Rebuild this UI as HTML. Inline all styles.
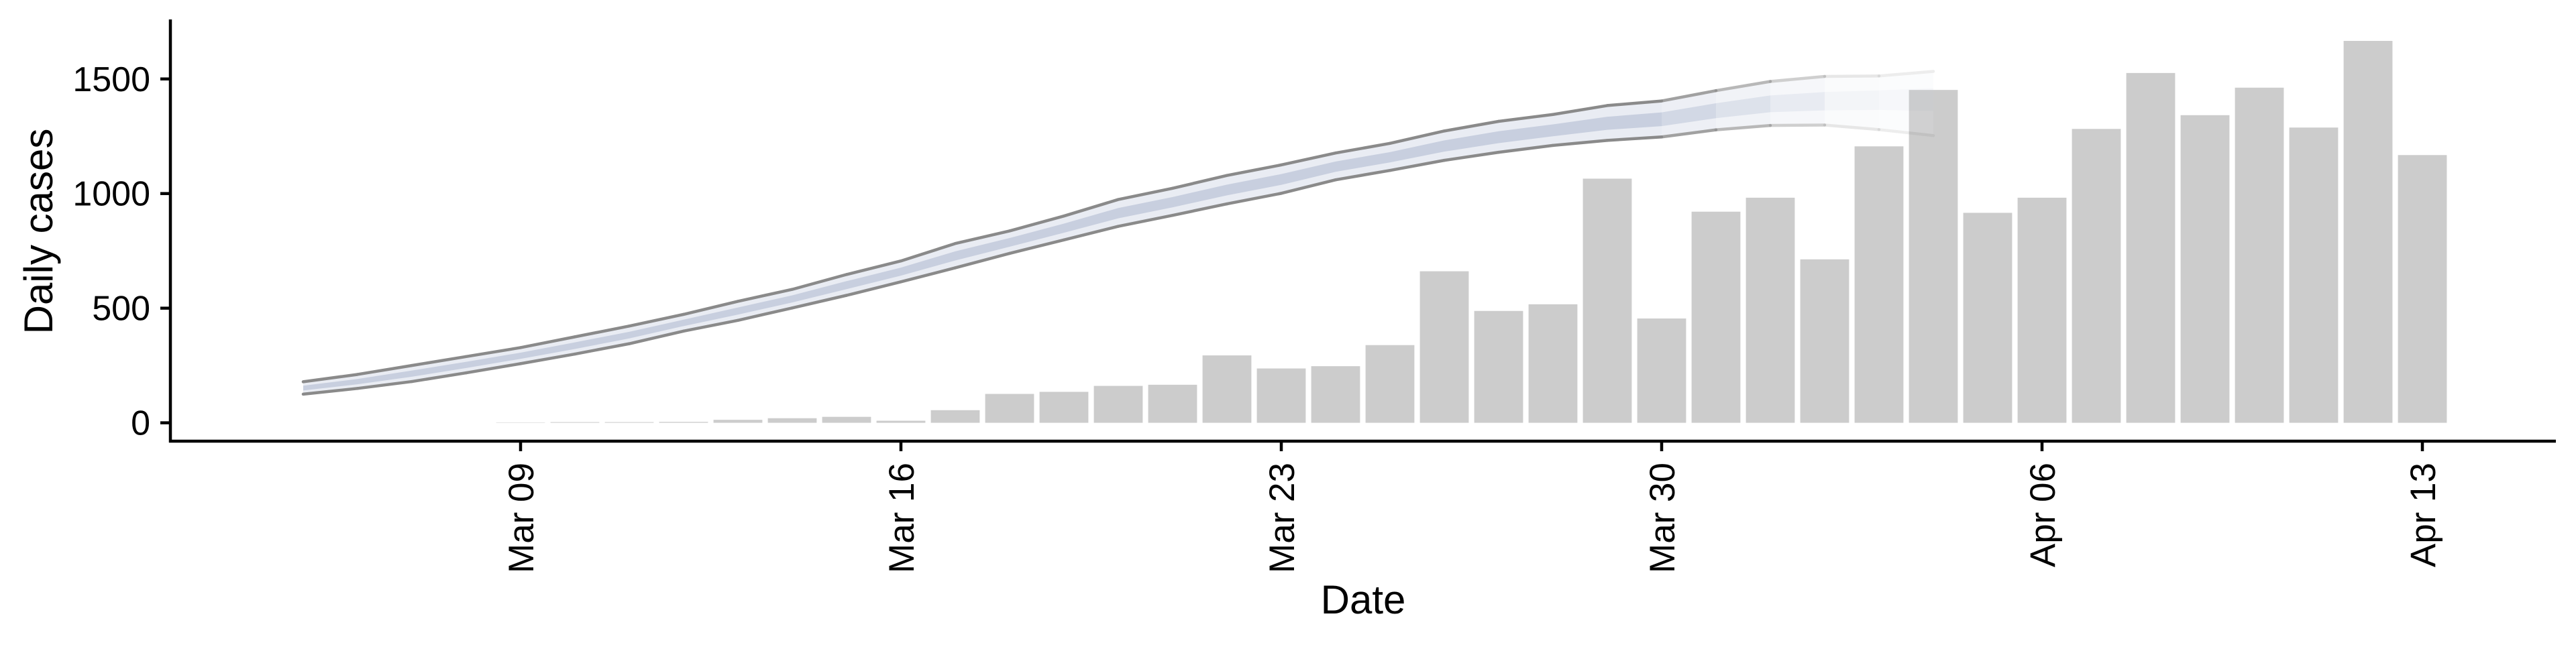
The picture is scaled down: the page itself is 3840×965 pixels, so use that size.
<!DOCTYPE html>
<html><head><meta charset="utf-8"><style>
html,body{margin:0;padding:0;background:#fff;}
svg text{font-family:"Liberation Sans",Arial,sans-serif;fill:#000;}
</style></head><body>
<svg id="chart" width="3840" height="960" viewBox="0 0 3840 960" xmlns="http://www.w3.org/2000/svg">
<g id="bars"></g>
<g id="band"></g>
<g id="axes"></g>
</svg>
<script>
// ---- data ----
const barDays = [0,1,2,3,4,5,6,7,8,9,10,11,12,13,14,15,16,17,18,19,20,21,22,23,24,25,26,27,28,29,30,31,32,33,34,35];
const barValues = [1,3,3,4,13,20,26,9,55,126,135,161,166,294,237,247,339,661,488,517,1065,455,921,982,713,1206,1452,916,982,1282,1526,1342,1462,1288,1666,1168];
const curveDays = [-4,-3,-2,-1,0,1,2,3,4,5,6,7,8,9,10,11,12,13,14,15,16,17,18,19,20,21,22,23,24,25,26];
const upperValues = [179,211,250,289,328,375,422,473,530,582,647,706,782,837,902,974,1023,1079,1125,1177,1219,1273,1315,1345,1384,1404,1449,1489,1511,1513,1533];
const lowerValues = [125,150,180,218,258,300,345,400,447,501,556,615,676,739,798,857,905,955,1001,1060,1101,1145,1180,1210,1232,1247,1278,1297,1299,1279,1253];
const innerHiValues = [162,191,228,266,306,351,397,450,503,556,618,677,748,806,869,937,985,1039,1085,1140,1181,1232,1272,1302,1335,1354,1394,1428,1443,1450,1460];
const innerLoValues = [141,168,201,239,279,322,368,422,472,525,583,642,708,768,829,892,940,992,1038,1095,1136,1183,1220,1250,1278,1294,1329,1355,1363,1365,1360];
const yTicks = [0,500,1000,1500];
const xTickDays = [0,7,14,21,28,35];
const xTickLabels = ["Mar 09","Mar 16","Mar 23","Mar 30","Apr 06","Apr 13"];

// ---- scales ----
const X0 = 776, DAY = 81;
const Y0 = 630.6, YK = 0.3419;
function xs(d){return X0 + d*DAY;}
function ys(v){return Y0 - v*YK;}
const NS = "http://www.w3.org/2000/svg";
function mk(tag, attrs, parent){const e=document.createElementNS(NS,tag);for(const k in attrs)e.setAttribute(k,attrs[k]);parent.appendChild(e);return e;}

// bars
const gb = document.getElementById('bars');
barDays.forEach((d,i)=>{
  const v = barValues[i];
  const r = mk('rect',{x:xs(d)-36.4,y:ys(v),width:72.8,height:Math.max(0.5,v*YK),fill:'#cccccc'},gb);
  
  
});

// band (per-day segments, fading toward the end)
const gband = document.getElementById('band');
const n = curveDays.length;
function alphaFor(i){ if(i<21+4) return 1; return Math.max(0.15, 1-(i-24)*0.2); }
for(let i=0;i<n-1;i++){
  const a = alphaFor(i);
  const xa = xs(curveDays[i]), xb = xs(curveDays[i+1]);
  const seg = mk('g',{opacity:a},gband);
  
  
  const p1 = mk('polygon',{points:`${xa},${ys(upperValues[i])} ${xb},${ys(upperValues[i+1])} ${xb},${ys(lowerValues[i+1])} ${xa},${ys(lowerValues[i])}`,fill:'#e9ecf3'},seg);
  
  
  const p2 = mk('polygon',{points:`${xa},${ys(innerHiValues[i])} ${xb},${ys(innerHiValues[i+1])} ${xb},${ys(innerLoValues[i+1])} ${xa},${ys(innerLoValues[i])}`,fill:'#c8cfdf'},seg);
  
  
  const l1 = mk('line',{x1:xa,y1:ys(upperValues[i]),x2:xb,y2:ys(upperValues[i+1]),stroke:'#8a8a8a','stroke-width':4.5,'stroke-linecap':'round'},seg);
  
  
  const l2 = mk('line',{x1:xa,y1:ys(lowerValues[i]),x2:xb,y2:ys(lowerValues[i+1]),stroke:'#8a8a8a','stroke-width':4.5,'stroke-linecap':'round'},seg);
  
  
}

// axes
const ga = document.getElementById('axes');
const ya = mk('line',{x1:254,y1:29,x2:254,y2:660,stroke:'#000','stroke-width':4.5},ga);


const xa = mk('line',{x1:252,y1:658,x2:3810,y2:658,stroke:'#000','stroke-width':4.5},ga);


yTicks.forEach(v=>{
  const t = mk('line',{x1:239,y1:ys(v),x2:254,y2:ys(v),stroke:'#000','stroke-width':4.5},ga);
  
  
  const tx = mk('text',{x:224,y:ys(v)+18,'text-anchor':'end','font-size':52},ga);
  tx.textContent = String(v);
  
  
});
xTickDays.forEach((d,i)=>{
  const x = xs(d);
  const t = mk('line',{x1:x,y1:658,x2:x,y2:673,stroke:'#000','stroke-width':4.5},ga);
  
  
  const tx = mk('text',{x:0,y:0,'text-anchor':'end','font-size':53,transform:`translate(${x+19},690) rotate(-90)`},ga);
  tx.textContent = xTickLabels[i];
  
  
});
const xt = mk('text',{x:2032,y:915,'text-anchor':'middle','font-size':60},ga);
xt.textContent = 'Date';


const yt = mk('text',{x:0,y:0,'text-anchor':'middle','font-size':60,transform:'translate(78,345) rotate(-90)'},ga);
yt.textContent = 'Daily cases';


</script>
</body></html>
